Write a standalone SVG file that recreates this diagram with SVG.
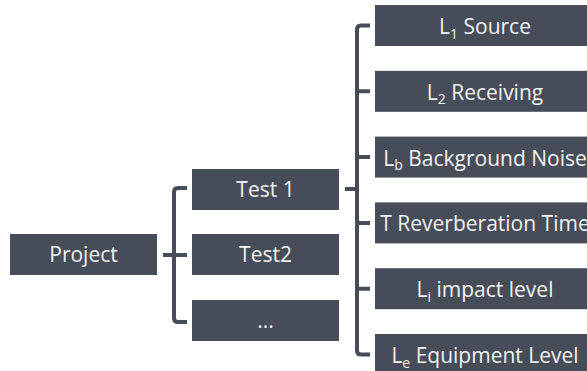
<svg xmlns="http://www.w3.org/2000/svg" width="587" height="371" viewBox="0 0 587 371">
<style>
.box{fill:#474c59}
.t{font-family:"Open Sans","Noto Sans",sans-serif;font-size:21px;fill:#f2f2f2;text-anchor:middle}
.s{font-size:14px}
.c{fill:none;stroke:#474c59;stroke-width:4;stroke-linejoin:round}
</style>
<rect width="587" height="371" fill="#ffffff"/>
<g id="connectors">
<path class="c" d="M163,255 H187 M187,188 H178 Q174,188 174,192 V318 Q174,322 178,322 H187"/>
<path class="c" d="M345,189 H357 M370,25.5 H361 Q357,25.5 357,29.5 V350.5 Q357,354.5 361,354.5 H370 M357,91.3 H370 M357,157.1 H370 M357,222.9 H370 M357,288.7 H370"/>
</g>
<g id="project"><rect class="box" x="10" y="234" width="147" height="41"/><text class="t" x="83.5" y="262">Project</text></g>
<g id="test1"><rect class="box" x="192" y="169" width="147" height="41"/><text class="t" x="265.5" y="197">Test 1</text></g>
<g id="test2"><rect class="box" x="192" y="234" width="147" height="41"/><text class="t" x="265.5" y="262">Test2</text></g>
<g id="test3"><rect class="box" x="192" y="300" width="147" height="41"/><text class="t" x="265.5" y="328">...</text></g>
<g id="l1"><rect class="box" x="375" y="5" width="220" height="41"/><text class="t" x="485" y="34">L<tspan class="s" dy="4.5">1</tspan><tspan dy="-4.5"> Source</tspan></text></g>
<g id="l2"><rect class="box" x="375" y="70.8" width="220" height="41"/><text class="t" x="485" y="99.8">L<tspan class="s" dy="4.5">2</tspan><tspan dy="-4.5"> Receiving</tspan></text></g>
<g id="lb"><rect class="box" x="375" y="136.6" width="220" height="41"/><text class="t" x="485" y="165.6">L<tspan class="s" dy="4.5">b</tspan><tspan dy="-4.5"> Background Noise</tspan></text></g>
<g id="t"><rect class="box" x="375" y="202.4" width="220" height="41"/><text class="t" x="485" y="231.4">T Reverberation Time</text></g>
<g id="li"><rect class="box" x="375" y="268.2" width="220" height="41"/><text class="t" x="485" y="297.2">L<tspan class="s" dy="4.5">i</tspan><tspan dy="-4.5"> impact level</tspan></text></g>
<g id="le"><rect class="box" x="375" y="334" width="220" height="41"/><text class="t" x="485" y="363">L<tspan class="s" dy="4.5">e</tspan><tspan dy="-4.5"> Equipment Level</tspan></text></g>
</svg>
